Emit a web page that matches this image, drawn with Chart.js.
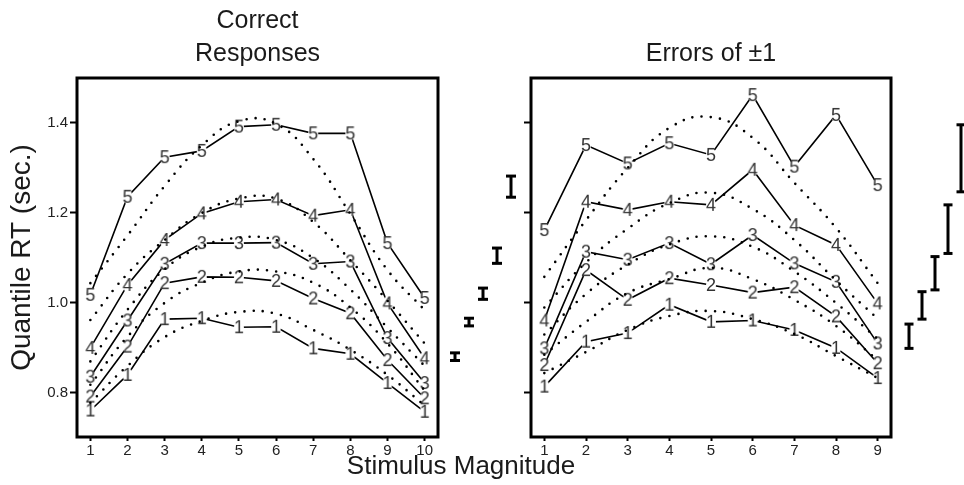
<!DOCTYPE html>
<html>
<head>
<meta charset="utf-8">
<script src="https://cdn.jsdelivr.net/npm/chart.js@4.4.1/dist/chart.umd.min.js"></script>
<style>
  html,body{margin:0;padding:0;background:#fff;}
  body{width:964px;height:485px;position:relative;overflow:hidden;font-family:"Liberation Sans",Arial,sans-serif;}
  .panel{position:absolute;top:0;height:485px;}
  #xTitle{position:absolute;left:0;width:922px;top:450px;line-height:30px;text-align:center;font-size:26px;color:#1a1a1a;}
</style>
</head>
<body>
<div class="panel" style="left:0;width:450px"><canvas id="correct"></canvas></div>
<div class="panel" style="left:441px;width:84px"><canvas id="correctBars"></canvas></div>
<div class="panel" style="left:500px;width:400px"><canvas id="errors"></canvas></div>
<div class="panel" style="left:896px;width:78px"><canvas id="errorBars"></canvas></div>
<div id="xTitle">Stimulus Magnitude</div>
<script>
/* DATA */
const magCorrect = [1,2,3,4,5,6,7,8,9,10];
const magErrors  = [1,2,3,4,5,6,7,8,9];
const quantiles  = ["1","2","3","4","5"];
const yTicks     = [0.8,1.0,1.2,1.4];

// observed RT quantiles, correct responses
const corrQ1 = [0.761,0.840,0.964,0.966,0.946,0.947,0.899,0.887,0.822,0.758];
const corrQ2 = [0.792,0.903,1.044,1.058,1.057,1.049,1.010,0.977,0.873,0.788];
const corrQ3 = [0.836,0.961,1.087,1.133,1.133,1.134,1.087,1.092,0.922,0.822];
const corrQ4 = [0.900,1.040,1.140,1.199,1.225,1.230,1.194,1.207,0.999,0.877];
const corrQ5 = [1.018,1.236,1.324,1.338,1.392,1.396,1.377,1.377,1.133,1.011];

// model predictions, correct responses
const corrFit1 = [0.778,0.860,0.924,0.960,0.980,0.976,0.940,0.896,0.840,0.772];
const corrFit2 = [0.818,0.925,1.000,1.045,1.070,1.070,1.045,0.990,0.910,0.805];
const corrFit3 = [0.870,0.985,1.075,1.125,1.145,1.140,1.100,1.030,0.945,0.860];
const corrFit4 = [0.962,1.065,1.140,1.200,1.232,1.232,1.180,1.095,1.005,0.910];
const corrFit5 = [1.044,1.150,1.260,1.350,1.404,1.398,1.320,1.198,1.073,0.984];

// observed RT quantiles, errors of +/-1
const errQ1 = [0.814,0.914,0.933,0.996,0.958,0.961,0.940,0.900,0.833];
const errQ2 = [0.862,1.073,1.007,1.055,1.040,1.023,1.035,0.970,0.866];
const errQ3 = [0.899,1.114,1.096,1.133,1.086,1.151,1.088,1.047,0.910];
const errQ4 = [0.961,1.225,1.207,1.225,1.218,1.296,1.173,1.129,0.999];
const errQ5 = [1.162,1.351,1.310,1.355,1.329,1.462,1.303,1.418,1.262];

// model predictions, errors
const errFit1 = [0.844,0.891,0.940,0.971,0.982,0.964,0.931,0.882,0.833];
const errFit2 = [0.885,0.958,1.022,1.053,1.078,1.053,1.007,0.949,0.873];
const errFit3 = [0.930,1.020,1.085,1.130,1.148,1.125,1.070,1.000,0.920];
const errFit4 = [0.990,1.090,1.165,1.222,1.245,1.209,1.140,1.050,0.965];
const errFit5 = [1.058,1.184,1.300,1.389,1.413,1.367,1.267,1.167,1.044];

// typical standard error per quantile
const corrSeLo = [0.872,0.949,1.008,1.088,1.235];
const corrSeHi = [0.889,0.966,1.033,1.122,1.282];
const errSeLo  = [0.899,0.964,1.029,1.110,1.247];
const errSeHi  = [0.953,1.025,1.103,1.218,1.396];

/* DEFAULTS */
Chart.defaults.font.family = '"Liberation Sans", Arial, sans-serif';
Chart.defaults.color = "#222";
Chart.defaults.animation = false;
Chart.defaults.events = [];
Chart.defaults.plugins.legend.display = false;
Chart.defaults.plugins.tooltip.enabled = false;

/* QUANTILE DIGIT MARKERS */
function digitMark(d){
  const c = document.createElement("canvas");
  c.width = 14; c.height = 18;
  const g = c.getContext("2d");
  g.fillStyle = "#fff";
  g.beginPath(); g.ellipse(7,9,5,7,0,0,Math.PI*2); g.fill();
  g.fillStyle = "#333";
  g.font = '18px "Liberation Sans"';
  g.textAlign = "center";
  g.fillText(d, 7, 9 + 18*0.716/2);
  return c;
}
const marks = quantiles.map(digitMark);

/* BOX AROUND PLOT AREA */
const frame = {
  id:"frame",
  afterDraw(chart){
    const {ctx, chartArea:a} = chart;
    ctx.save();
    ctx.lineWidth = 3; ctx.strokeStyle = "#000";
    ctx.strokeRect(a.left, a.top, a.right-a.left, a.bottom-a.top);
    ctx.restore();
  }
};

const pts = (xs, ys) => xs.map((x,i)=>({x, y:ys[i]}));

function panelData(xs, obs, fits){
  const dotted = fits.map(f=>({
    data:pts(xs,f), borderColor:"#000", borderWidth:2.6, borderDash:[0,9.2],
    borderCapStyle:"round", tension:.45, pointRadius:0, order:0
  }));
  const solid = obs.map((o,q)=>({
    data:pts(xs,o), borderColor:"#000", borderWidth:1.6, tension:0,
    pointStyle:marks[q], pointRadius:8, order:1
  }));
  return {datasets:[...dotted, ...solid]};
}

function panelScales(xmin, xmax, xticks, withLabels, yWidth){
  return {
    x:{
      type:"linear", min:xmin, max:xmax,
      afterBuildTicks:s=>{ s.ticks = xticks.map(v=>({value:v})); },
      ticks:{font:{size:15}, padding:1, maxRotation:0, autoSkip:false},
      grid:{drawOnChartArea:false, tickLength:4, tickWidth:2, tickColor:"#000"},
      border:{display:false},
      afterFit:s=>{ s.height = 48; }
    },
    y:{
      type:"linear", min:0.702, max:1.5,
      afterBuildTicks:s=>{ s.ticks = yTicks.map(v=>({value:v})); },
      ticks:{display:withLabels, font:{size:15}, padding:2, callback:v=>v.toFixed(1)},
      grid:{drawOnChartArea:false, tickLength:7, tickWidth:2, tickColor:"#000"},
      border:{display:false},
      title:{display:withLabels, text:"Quantile RT (sec.)", font:{size:28}, color:"#1a1a1a", padding:{top:5,bottom:0}},
      afterFit:s=>{ s.width = yWidth; }
    }
  };
}

/* CORRECT RESPONSES */
new Chart(document.getElementById("correct"),{
  type:"line",
  data:panelData(magCorrect,[corrQ1,corrQ2,corrQ3,corrQ4,corrQ5],[corrFit1,corrFit2,corrFit3,corrFit4,corrFit5]),
  options:{
    responsive:true, maintainAspectRatio:false,
    layout:{autoPadding:false, padding:{left:0,right:12,top:0,bottom:0}},
    scales:panelScales(0.64,10.36,magCorrect,true,77),
    plugins:{title:{display:true, text:["Correct","Responses"], fullSize:false, color:"#1a1a1a",
      font:{size:25, weight:"normal", lineHeight:1.32}, padding:{top:5,bottom:7}}}
  },
  plugins:[frame]
});

/* ERRORS OF +/-1 */
new Chart(document.getElementById("errors"),{
  type:"line",
  data:panelData(magErrors,[errQ1,errQ2,errQ3,errQ4,errQ5],[errFit1,errFit2,errFit3,errFit4,errFit5]),
  options:{
    responsive:true, maintainAspectRatio:false,
    layout:{autoPadding:false, padding:{left:0,right:9,top:0,bottom:0}},
    scales:panelScales(0.68,9.32,magErrors,false,31),
    plugins:{title:{display:true, text:"Errors of \u00b11", fullSize:false, color:"#1a1a1a",
      font:{size:25, weight:"normal", lineHeight:1.32}, padding:{top:38,bottom:7}}}
  },
  plugins:[frame]
});

/* STANDARD ERROR BARS */
function seChart(id, lo, hi, cap){
  new Chart(document.getElementById(id),{
    type:"line",
    data:{datasets:lo.map((l,i)=>({
      data:[{x:i+1,y:l},{x:i+1,y:hi[i]}],
      borderColor:"#000", borderWidth:3,
      pointStyle:"line", pointRadius:cap, pointBorderWidth:3, pointBorderColor:"#000"
    }))},
    options:{
      responsive:true, maintainAspectRatio:false,
      layout:{autoPadding:false, padding:{left:0,right:0,top:78,bottom:48}},
      scales:{
        x:{type:"linear", min:0, max:6, display:false},
        y:{type:"linear", min:0.702, max:1.5, display:false}
      }
    }
  });
}
seChart("correctBars", corrSeLo, corrSeHi, 5);
seChart("errorBars", errSeLo, errSeHi, 4.5);
</script>
</body>
</html>
